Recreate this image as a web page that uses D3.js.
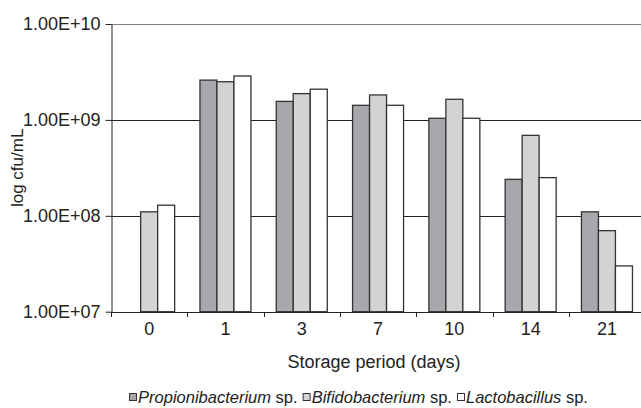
<!DOCTYPE html>
<html>
<head>
<meta charset="utf-8">
<script src="https://cdn.jsdelivr.net/npm/d3@7"></script>
<style>
  body { margin: 0; background: #fff; }
  text { font-family: "Liberation Sans Narrow", "Arial Narrow", "Liberation Sans", sans-serif; fill: #222; }
</style>
</head>
<body>
<div id="chart"></div>
<script>
// storage days and the three bacteria series (cfu/mL)
const days = ["0", "1", "3", "7", "10", "14", "21"];
const seriesNames = ["Propionibacterium", "Bifidobacterium", "Lactobacillus"];
const propioni = [null, 2.6e9, 1.56e9, 1.42e9, 1.04e9, 2.4e8, 1.1e8];
const bifido   = [1.1e8, 2.5e9, 1.88e9, 1.82e9, 1.64e9, 6.9e8, 7.0e7];
const lacto    = [1.29e8, 2.87e9, 2.09e9, 1.42e9, 1.04e9, 2.5e8, 3.0e7];
const yTicks = [1e7, 1e8, 1e9, 1e10];
const yTickLabels = ["1.00E+07", "1.00E+08", "1.00E+09", "1.00E+10"];

const colors = ["#a7a8ab", "#d2d3d5", "#ffffff"];

const width = 641;
const height = 408;
const margin = {left: 111, top: 24, bottom: 96};
const step = 76.3;

const svg = d3.select("#chart")
  .append("svg")
  .attr("width", width)
  .attr("height", height);

const data = days.map((d, i) => ({
  day: d,
  values: [propioni[i], bifido[i], lacto[i]]
}));

// scales
const xScale = d3.scaleBand()
  .domain(days)
  .range([margin.left, margin.left + step * days.length]);

const groupW = 51;
const xInner = d3.scaleBand()
  .domain([0, 1, 2])
  .range([0, groupW]);

const yScale = d3.scaleLog()
  .domain([1e7, 1e10])
  .range([height - margin.bottom - 0.3, margin.top]);

// horizontal gridlines
svg.append("g")
  .selectAll("line")
  .data(yTicks.slice(1))
  .enter()
  .append("line")
  .attr("x1", margin.left)
  .attr("x2", width)
  .attr("y1", d => Math.round(yScale(d)) + 0.5)
  .attr("y2", d => Math.round(yScale(d)) + 0.5)
  .attr("stroke", (d) => d === 1e10 ? "#808080" : "#222")
  .attr("stroke-width", 1);

// bars
const groups = svg.append("g")
  .selectAll("g")
  .data(data)
  .enter()
  .append("g")
  .attr("transform", d => `translate(${xScale(d.day) + (step - groupW) / 2},0)`);

groups.selectAll("rect")
  .data(d => d.values.map((v, i) => ({v: v, i: i})).filter(e => e.v != null))
  .enter()
  .append("rect")
  .attr("x", d => xInner(d.i))
  .attr("width", xInner.bandwidth())
  .attr("y", d => yScale(d.v))
  .attr("height", d => yScale(1e7) - yScale(d.v))
  .attr("fill", d => colors[d.i])
  .attr("stroke", "#333")
  .attr("stroke-width", 1.3);

// y axis
const yAxis = svg.append("g")
  .attr("transform", `translate(${margin.left + 0.5},0)`)
  .call(d3.axisLeft(yScale)
    .tickValues(yTicks)
    .tickFormat((d, i) => yTickLabels[i])
    .tickSizeInner(6)
    .tickSizeOuter(0)
    .tickPadding(5));
yAxis.selectAll("path, line").attr("stroke", "#222");
yAxis.selectAll("text")
  .attr("font-size", "18px")
  .attr("font-family", null)
  .attr("fill", "#222");

// x axis
const xAxis = svg.append("g")
  .attr("transform", `translate(0,${Math.round(yScale(1e7)) + 0.5})`)
  .call(d3.axisBottom(xScale).tickSize(0).tickPadding(10));
xAxis.select("path").attr("stroke", "#222").attr("d", `M${margin.left},0H${width}`);
xAxis.selectAll("text")
  .attr("font-size", "18px")
  .attr("font-family", null)
  .attr("fill", "#222");

// tick marks between categories
svg.append("g")
  .selectAll("line")
  .data(days)
  .enter()
  .append("line")
  .attr("x1", d => Math.round(xScale(d)) + 0.5)
  .attr("x2", d => Math.round(xScale(d)) + 0.5)
  .attr("y1", Math.round(yScale(1e7)))
  .attr("y2", Math.round(yScale(1e7)) + 5)
  .attr("stroke", "#222");

// axis titles
svg.append("text")
  .attr("transform", `translate(23,${(margin.top + yScale(1e7)) / 2}) rotate(-90)`)
  .attr("text-anchor", "middle")
  .attr("font-size", "17px")
  .text("log cfu/mL");

svg.append("text")
  .attr("x", 374)
  .attr("y", 368)
  .attr("text-anchor", "middle")
  .attr("font-size", "18px")
  .text("Storage period (days)");

// legend
const legend = svg.append("g");
let lx = 0;
seriesNames.forEach((name, i) => {
  const item = legend.append("g").attr("transform", `translate(${lx},0)`);
  item.append("rect")
    .attr("x", 0.5).attr("y", -9.5)
    .attr("width", 7).attr("height", 7)
    .attr("fill", colors[i])
    .attr("stroke", "#333")
    .attr("stroke-width", 1);
  const t = item.append("text")
    .attr("x", 9)
    .attr("y", 0)
    .attr("font-size", "16.5px");
  t.append("tspan").attr("font-style", "italic").text(name);
  t.append("tspan").text(" sp.");
  lx += 9 + t.node().getComputedTextLength() + 5;
});
legend.attr("transform", `translate(${361 - lx / 2},403)`);
</script>
</body>
</html>
